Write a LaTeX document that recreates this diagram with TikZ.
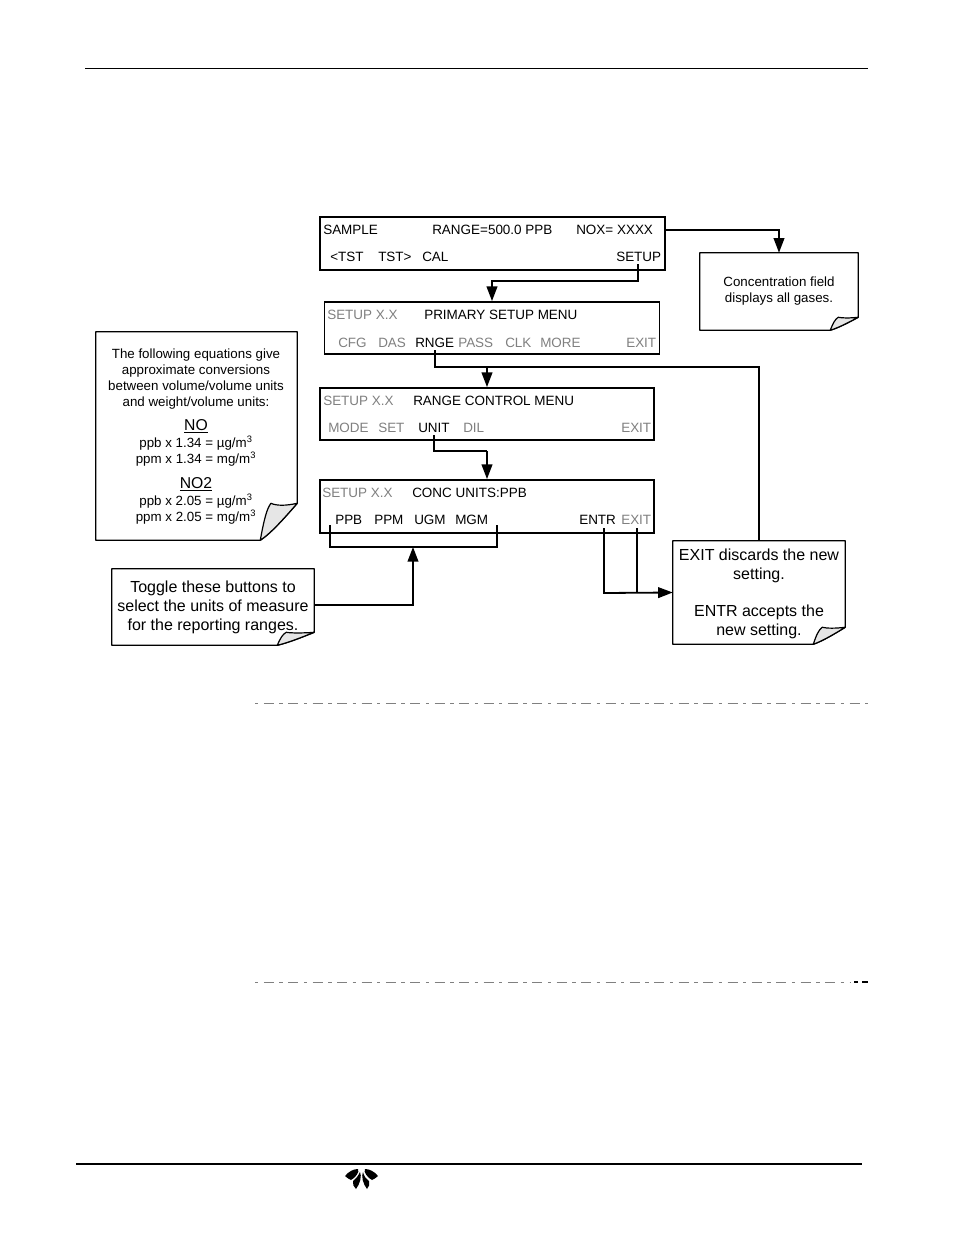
\documentclass[tikz,border=0pt]{standalone}
\usepackage{fontspec}
\setmainfont{Liberation Sans}
\usetikzlibrary{arrows.meta}
\definecolor{dimtext}{HTML}{808080}
\definecolor{foldfill}{HTML}{E6E6E6}
\tikzset{
  x=0.75pt,y=-0.75pt,
  menubox/.style={draw=black,line width=1.35pt,inner sep=0pt},
  lbl/.style={anchor=base west,inner sep=0pt,font=\fontsize{10.1pt}{12pt}\selectfont,text=black},
  dim/.style={lbl,text=dimtext},
  heading/.style={anchor=base,inner sep=0pt,font=\fontsize{11.8pt}{13pt}\selectfont,text=black},
  notearea/.style={inner sep=0pt},
  smalltext/.style={align=center,inner sep=0pt,font=\fontsize{10pt}{12pt}\selectfont},
  bigtext/.style={align=center,inner sep=0pt,font=\fontsize{12pt}{14.2pt}\selectfont},
  conn/.style={draw=black,line width=1.35pt},
  arrowc/.style={conn,-{Triangle[length=11pt,width=8pt]}},
  sep/.style={draw=dimtext,line width=0.7pt,dash pattern=on 2.6pt off 4.1pt on 7.5pt off 4.1pt},
}
% #1 node, #2 fold width along bottom, #3 fold height, #4 tip offset from fold start, #5 line width
\newcommand{\foldnote}[5]{%
  \draw[line width=#5,line join=bevel]
    (#1.north west) -- (#1.north east) -- ([yshift=#3]#1.south east)
    .. controls ([xshift=-0.35*#2,yshift=0.6*#3]#1.south east) and ([xshift=-0.7*#2,yshift=0.2*#3]#1.south east) ..
    ([xshift=-#2]#1.south east) -- (#1.south west) -- cycle;
  \draw[line width=0.9pt,line join=bevel,fill=foldfill]
    ([xshift=-#2]#1.south east)
    .. controls ([xshift=-#2+0.35*#4,yshift=0.55*#3]#1.south east) and ([xshift=-#2+0.6*#4,yshift=0.85*#3]#1.south east) ..
    ([xshift=-#2+#4,yshift=#3]#1.south east)
    .. controls ([xshift=-#2+1.5*#4,yshift=0.93*#3]#1.south east) and ([xshift=-0.3*#2,yshift=0.93*#3]#1.south east) ..
    ([yshift=#3]#1.south east)
    .. controls ([xshift=-0.35*#2,yshift=0.6*#3]#1.south east) and ([xshift=-0.7*#2,yshift=0.2*#3]#1.south east) ..
    ([xshift=-#2]#1.south east) -- cycle;
}
\begin{document}
\begin{tikzpicture}
\useasboundingbox[fill=white] (0,0) rectangle (954,1235);

% page rules
\coordinate (hl) at (85,68); \coordinate (hr) at (868,68);
\draw[line width=0.7pt] (hl) -- (hr);
\coordinate (fl) at (76,1164); \coordinate (fr) at (862,1164);
\draw[line width=1.5pt] (fl) -- (fr);
\coordinate (s1l) at (255,703); \coordinate (s1r) at (870,703);
\draw[sep] (s1l) -- (s1r);
\coordinate (s2l) at (255,982); \coordinate (s2r) at (850,982);
\draw[sep] (s2l) -- (s2r);
\coordinate (s2a) at (854,982); \coordinate (s2b) at (868,982);
\draw[line width=0.9pt,dash pattern=on 3pt off 3pt on 4.5pt off 3pt] (s2a) -- (s2b);

% menu boxes
\node[menubox,minimum width=258.75pt,minimum height=39.75pt] (samplebox) at (492.5,243.5) {};
\node[menubox,minimum width=251.25pt,minimum height=39pt] (primarybox) at (492,328) {};
\node[menubox,minimum width=250.5pt,minimum height=39pt] (rangebox) at (487,414) {};
\node[menubox,minimum width=250.5pt,minimum height=39.75pt] (concbox) at (487,506.5) {};

% sample box
\node[lbl] (l1) at (323,234) {SAMPLE};
\node[lbl] (l2) at (432,234) {RANGE=500.0 PPB};
\node[lbl] (l3) at (576,234) {NOX= XXXX};
\node[lbl] (l4) at (330,261) {<TST};
\node[lbl] (l5) at (378,261) {TST>};
\node[lbl] (l6) at (422,261) {CAL};
\node[lbl] (setup) at (616,261) {SETUP};
% primary
\node[dim] (p1) at (327,319) {SETUP X.X};
\node[lbl] (p2) at (424,319) {PRIMARY SETUP MENU};
\node[dim] (p3) at (338,347) {CFG};
\node[dim] (p4) at (378,347) {DAS};
\node[lbl] (rnge) at (415,347) {RNGE};
\node[dim] (p6) at (458,347) {PASS};
\node[dim] (p7) at (505,347) {CLK};
\node[dim] (p8) at (540,347) {MORE};
\node[dim] (p9) at (626,347) {EXIT};
% range
\node[dim] (r1) at (323,405) {SETUP X.X};
\node[lbl] (r2) at (413,405) {RANGE CONTROL MENU};
\node[dim] (r3) at (328,432) {MODE};
\node[dim] (r4) at (378,432) {SET};
\node[lbl] (unit) at (418,432) {UNIT};
\node[dim] (r6) at (463,432) {DIL};
\node[dim] (r7) at (621,432) {EXIT};
% conc
\node[dim] (c1) at (322,497) {SETUP X.X};
\node[lbl] (c2) at (412,497) {CONC UNITS:PPB};
\node[lbl] (ppb) at (335,524) {PPB};
\node[lbl] (ppm) at (374,524) {PPM};
\node[lbl] (ugm) at (414,524) {UGM};
\node[lbl] (mgm) at (455,524) {MGM};
\node[lbl] (entr) at (579,524) {ENTR};
\node[dim] (cexit) at (621,524) {EXIT};

% notes
\node[notearea,minimum width=118.5pt,minimum height=57.75pt] (concnote) at (779,291.5) {};
\node[smalltext] at (779,291) {Concentration field\\displays all gases.};
\foldnote{concnote}{21pt}{9.75pt}{6pt}{1pt}

\node[notearea,minimum width=150.75pt,minimum height=156pt] (eqnote) at (196.5,436) {};
\node[smalltext] (eq1) at (196,379) {The following equations give\\approximate conversions\\between volume/volume units\\and weight/volume units:};
\node[heading] (no) at (196,430) {\underline{NO}};
\node[smalltext] (eq2) at (196,451.5) {ppb x 1.34 = µg/m\textsuperscript{3}\\ppm x 1.34 = mg/m\textsuperscript{3}};
\node[heading] (no2) at (196,488) {\underline{NO2}};
\node[smalltext] (eq3) at (196,509.5) {ppb x 2.05 = µg/m\textsuperscript{3}\\ppm x 2.05 = mg/m\textsuperscript{3}};
\foldnote{eqnote}{27.75pt}{27.75pt}{8pt}{1pt}

\node[notearea,minimum width=151.5pt,minimum height=57pt] (togglenote) at (213,607) {};
\node[bigtext] at (213,607) {Toggle these buttons to\\select the units of measure\\for the reporting ranges.};
\foldnote{togglenote}{27.75pt}{9.75pt}{6.75pt}{1pt}

\node[notearea,minimum width=129pt,minimum height=77.25pt] (exitnote) at (759,592.5) {};
\node[bigtext] at (759,594) {EXIT discards the new\\setting.\\[14pt]ENTR accepts the\\new setting.};
\foldnote{exitnote}{24pt}{12.75pt}{6.75pt}{1pt}

% connectors
\coordinate (noxout) at (samplebox.east |- 0,230);
\draw[arrowc] (noxout) -| (concnote.north);
\coordinate (s1) at (638,264);
\coordinate (s2) at (638,281);
\draw[arrowc] (s1) -- (s2) -| (primarybox.north);
\coordinate (rturn) at (exitnote.north |- 0,367);
\draw[conn] ([yshift=-2pt]rnge.south) |- (rturn) -- (exitnote.north);
\coordinate (rb) at (rangebox.north |- rturn);
\draw[arrowc] (rb) -- (rangebox.north);
\coordinate (ub) at (concbox.north |- 0,451);
\draw[conn] ([yshift=-2pt]unit.south) |- (ub);
\draw[arrowc] (ub) -- (concbox.north);
\coordinate (bl) at (330,525); \coordinate (bbl) at (330,547);
\coordinate (br) at (497,525); \coordinate (bbr) at (497,547);
\draw[conn] (bl) -- (bbl) -- (bbr) -- (br);
\coordinate (bm) at (413,547);
\draw[arrowc] ([yshift=1.5pt]togglenote.east) -| (bm);
\coordinate (ed) at (604,528); \coordinate (ej) at (604,593);
\draw[arrowc] (ed) -- (ej) -- (exitnote.west);
\coordinate (xd) at (637,528); \coordinate (xj) at (637,593);
\draw[conn] (xd) -- (xj);

% logo
\fill (345,1176) .. controls (349,1171) and (354,1169) .. (358,1169) .. controls (360,1172) and (355,1178) .. (351,1180) .. controls (349,1179) and (347,1178) .. (345,1176) -- cycle;
\fill (360,1172) .. controls (362,1176) and (360,1184) .. (356,1189) .. controls (354,1187) and (352,1184) .. (353,1181) .. controls (356,1179) and (358,1176) .. (360,1172) -- cycle;
\fill (363,1172) .. controls (361,1176) and (363,1184) .. (367,1189) .. controls (369,1187) and (370,1184) .. (369,1181) .. controls (366,1179) and (364,1176) .. (363,1172) -- cycle;
\fill (378,1176) .. controls (374,1171) and (369,1169) .. (365,1169) .. controls (363,1172) and (368,1178) .. (372,1180) .. controls (374,1179) and (376,1178) .. (378,1176) -- cycle;
\end{tikzpicture}
\end{document}
